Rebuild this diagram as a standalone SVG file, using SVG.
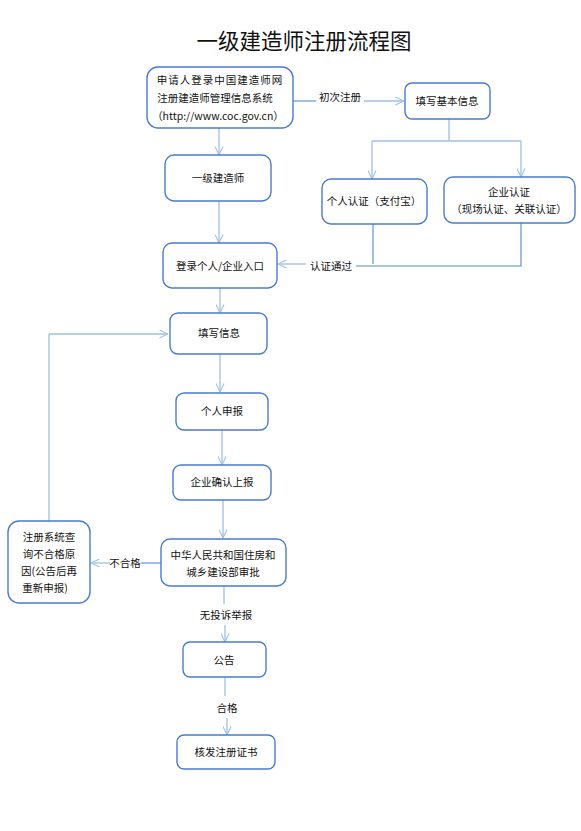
<svg xmlns="http://www.w3.org/2000/svg" width="581" height="831" viewBox="0 0 581 831">
<defs>
<style>
.box{fill:#fff;stroke:#4a7bd0;stroke-width:1.4}
.t{font-family:"Noto Sans CJK SC","Liberation Sans",sans-serif;font-size:10.5px;fill:#111;text-anchor:middle}
.ln{fill:none;stroke:#4f8cd0;stroke-width:1.1}
.ar{fill:none;stroke:#9cc0e8;stroke-width:1.3;marker-end:url(#ah)}
.al{fill:none;stroke:#9cc0e8;stroke-width:1.3}
</style>
<marker id="ah" viewBox="0 0 10 10" refX="9.5" refY="5" markerWidth="9" markerHeight="9" markerUnits="userSpaceOnUse" orient="auto">
<path d="M0,0.5 L9.5,5 L0,9.5" fill="none" stroke="#9cc0e8" stroke-width="1.2"/>
</marker>
</defs>
<rect width="581" height="831" fill="#fff"/>
<text x="304" y="49" font-family="Noto Sans CJK SC,Liberation Sans,sans-serif" font-size="21.5" text-anchor="middle" fill="#111">一级建造师注册流程图</text>

<g id="connectors">
<line class="ar" x1="219" y1="128" x2="219" y2="155"/>
<line class="ln" x1="293" y1="101" x2="316" y2="101"/>
<text class="t" x="340" y="101">初次注册</text>
<line class="ar" x1="364" y1="101" x2="404" y2="101"/>
<polyline class="al" points="449,119 449,141"/>
<line class="al" x1="372" y1="141" x2="521" y2="141"/>
<line class="ar" x1="372" y1="141" x2="372" y2="179"/>
<line class="ar" x1="521" y1="141" x2="521" y2="177"/>
<line class="ln" x1="373" y1="224" x2="373" y2="264"/>
<polyline class="ln" points="521,223 521,266 356,266"/>
<text class="t" x="331" y="270">认证通过</text>
<line class="ar" x1="306" y1="264" x2="278" y2="264"/>
<line class="ar" x1="219" y1="201" x2="219" y2="243"/>
<line class="ar" x1="220" y1="288" x2="220" y2="313"/>
<line class="ar" x1="220" y1="354" x2="220" y2="392"/>
<line class="ar" x1="222" y1="430" x2="222" y2="465"/>
<line class="ar" x1="223" y1="500" x2="223" y2="538"/>
<line class="ln" x1="161" y1="563" x2="141" y2="563"/>
<text class="t" x="125" y="567">不合格</text>
<line class="ar" x1="110" y1="563" x2="91" y2="563"/>
<polyline class="al" points="49,521 49,334"/>
<line class="ar" x1="49" y1="334" x2="168" y2="334"/>
<line class="al" x1="224" y1="586" x2="224" y2="604"/>
<text class="t" x="226" y="619">无投诉举报</text>
<line class="ar" x1="225" y1="625" x2="225" y2="642"/>
<line class="al" x1="225" y1="677" x2="225" y2="696"/>
<text class="t" x="227" y="712">合格</text>
<line class="ar" x1="227" y1="718" x2="227" y2="735"/>
</g>

<g id="n1"><rect class="box" x="147" y="67" width="146" height="61" rx="11"/>
<text class="t" x="220" y="84" letter-spacing="1">申请人登录中国建造师网</text>
<text class="t" x="215" y="102">注册建造师管理信息系统</text>
<text class="t" x="218" y="120">（http://www.coc.gov.cn）</text></g>
<g id="n2"><rect class="box" x="405" y="83" width="85" height="36" rx="7"/>
<text class="t" x="447" y="105">填写基本信息</text></g>
<g id="n3"><rect class="box" x="165" y="155" width="106" height="46" rx="9"/>
<text class="t" x="218" y="182">一级建造师</text></g>
<g id="n4"><rect class="box" x="322" y="179" width="105" height="45" rx="9"/>
<text class="t" x="374" y="205">个人认证（支付宝）</text></g>
<g id="n5"><rect class="box" x="444" y="177" width="131" height="46" rx="9"/>
<text class="t" x="509" y="196">企业认证</text>
<text class="t" x="509" y="213">（现场认证、关联认证）</text></g>
<g id="n6"><rect class="box" x="163" y="243" width="114" height="45" rx="9"/>
<text class="t" x="220" y="270">登录个人/企业入口</text></g>
<g id="n7"><rect class="box" x="170" y="313" width="97" height="41" rx="8"/>
<text class="t" x="219" y="337">填写信息</text></g>
<g id="n8"><rect class="box" x="176" y="393" width="92" height="37" rx="8"/>
<text class="t" x="222" y="415">个人申报</text></g>
<g id="n9"><rect class="box" x="173" y="465" width="98" height="35" rx="8"/>
<text class="t" x="222" y="486">企业确认上报</text></g>
<g id="n10"><rect class="box" x="161" y="539" width="125" height="47" rx="9"/>
<text class="t" x="223" y="559">中华人民共和国住房和</text>
<text class="t" x="223" y="576">城乡建设部审批</text></g>
<g id="n11"><rect class="box" x="8" y="521" width="82" height="82" rx="11"/>
<text class="t" x="49" y="541">注册系统查</text>
<text class="t" x="49" y="558">询不合格原</text>
<text class="t" x="49" y="575">因(公告后再</text>
<text class="t" x="45" y="592">重新申报)</text></g>
<g id="n12"><rect class="box" x="183" y="642" width="83" height="35" rx="7"/>
<text class="t" x="224" y="664">公告</text></g>
<g id="n13"><rect class="box" x="177" y="735" width="98" height="34" rx="7"/>
<text class="t" x="226" y="756">核发注册证书</text></g>
</svg>
